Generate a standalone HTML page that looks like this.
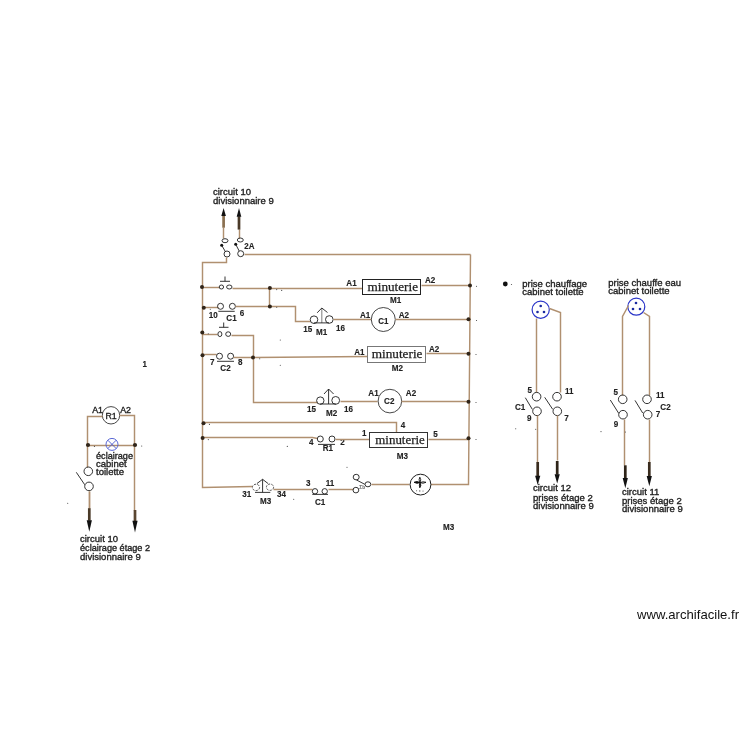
<!DOCTYPE html>
<html><head><meta charset="utf-8"><style>
html,body{margin:0;padding:0;background:#fff;}
svg{display:block;} .wrap{will-change:transform;width:750px;height:750px;}
</style></head><body><div class="wrap">
<svg width="750" height="750" viewBox="0 0 750 750">
<rect width="750" height="750" fill="#fff"/>
<text x="213" y="195" font-family="Liberation Sans" font-size="9.5" font-weight="normal" fill="#222" text-anchor="start" stroke="#222" stroke-width="0.35">circuit 10</text>
<text x="213" y="204" font-family="Liberation Sans" font-size="9.5" font-weight="normal" fill="#222" text-anchor="start" stroke="#222" stroke-width="0.35">divisionnaire 9</text>
<path d="M223.5,227.5 L223.5,238.5" fill="none" stroke="#b09070" stroke-width="1.45"/>
<rect x="222.25" y="215.5" width="2.7" height="12.199999999999989" fill="#8a7050"/>
<path d="M223.6,208 L221.29999999999998,216 L225.9,216 Z" fill="#111"/>
<path d="M239.5,229.5 L239.5,238.5" fill="none" stroke="#b09070" stroke-width="1.45"/>
<rect x="237.65" y="216.3" width="2.7" height="13.299999999999983" fill="#4a3a28"/>
<path d="M239,208 L236.7,216.8 L241.3,216.8 Z" fill="#111"/>
<ellipse cx="225" cy="240.7" rx="3" ry="2" fill="none" stroke="#1e1e1e" stroke-width="0.9"/>
<ellipse cx="240.3" cy="240" rx="3" ry="2" fill="none" stroke="#1e1e1e" stroke-width="0.9"/>
<path d="M221.7,245.3 L225.3,251.5" fill="none" stroke="#1e1e1e" stroke-width="0.9"/>
<circle cx="227" cy="254" r="3" fill="none" stroke="#1e1e1e" stroke-width="0.9"/>
<path d="M235.7,244.3 L239.2,251" fill="none" stroke="#1e1e1e" stroke-width="0.9"/>
<circle cx="240.7" cy="253.7" r="3" fill="none" stroke="#1e1e1e" stroke-width="0.9"/>
<text transform="translate(244.3,248.7) scale(1,1.15)" x="0" y="0" font-family="Liberation Sans" font-size="8" font-weight="bold" fill="#222" text-anchor="start" stroke="#222" stroke-width="0.12">2A</text>
<path d="M244.5,254.5 L470.5,254.5" fill="none" stroke="#b09070" stroke-width="1.45"/>
<path d="M470.5,254.5 L468.5,484.5 L431,484.5" fill="none" stroke="#b09070" stroke-width="1.45"/>
<path d="M226.5,257.5 L226.5,262.5 L202.5,262.5 L202.5,487.5 L252.5,486.5" fill="none" stroke="#b09070" stroke-width="1.45"/>
<path d="M202.5,287.5 L219.5,287.5" fill="none" stroke="#b09070" stroke-width="1.45"/>
<ellipse cx="221.4" cy="287" rx="2.2" ry="2" fill="none" stroke="#1e1e1e" stroke-width="0.9"/>
<ellipse cx="229.3" cy="287" rx="2.7" ry="2" fill="none" stroke="#1e1e1e" stroke-width="0.9"/>
<path d="M220,281.3 L230,281.3" fill="none" stroke="#1e1e1e" stroke-width="0.9"/>
<path d="M225,276.5 L225,281.3" fill="none" stroke="#1e1e1e" stroke-width="0.9"/>
<path d="M232.5,288.5 L362.5,288.5" fill="none" stroke="#b09070" stroke-width="1.45"/>
<path d="M269.5,288.5 L269.5,307.5" fill="none" stroke="#b09070" stroke-width="1.45"/>
<rect x="362.5" y="279.5" width="58" height="15" fill="#fff" stroke="#222" stroke-width="1"/>
<text x="367.5" y="291" font-family="Liberation Serif" font-size="13" font-weight="normal" fill="#222" text-anchor="start" textLength="50.5" lengthAdjust="spacingAndGlyphs" stroke="#222" stroke-width="0.25">minuterie</text>
<text transform="translate(346.3,285.7) scale(1,1.15)" x="0" y="0" font-family="Liberation Sans" font-size="8.1" font-weight="bold" fill="#222" text-anchor="start" stroke="#222" stroke-width="0.12">A1</text>
<text transform="translate(425,283.3) scale(1,1.15)" x="0" y="0" font-family="Liberation Sans" font-size="8.1" font-weight="bold" fill="#222" text-anchor="start" stroke="#222" stroke-width="0.12">A2</text>
<text transform="translate(390,302.5) scale(1,1.15)" x="0" y="0" font-family="Liberation Sans" font-size="8.1" font-weight="bold" fill="#222" text-anchor="start" stroke="#222" stroke-width="0.12">M1</text>
<path d="M421.5,285.5 L470.5,285.5" fill="none" stroke="#b09070" stroke-width="1.45"/>
<path d="M202.5,307.5 L218.5,307.5" fill="none" stroke="#b09070" stroke-width="1.45"/>
<circle cx="220.5" cy="306.3" r="3" fill="none" stroke="#1e1e1e" stroke-width="0.9"/>
<circle cx="232.4" cy="306.3" r="3" fill="none" stroke="#1e1e1e" stroke-width="0.9"/>
<path d="M218.3,311.3 L234.7,311.3" fill="none" stroke="#1e1e1e" stroke-width="0.9"/>
<text transform="translate(208.8,318) scale(1,1.15)" x="0" y="0" font-family="Liberation Sans" font-size="8.1" font-weight="bold" fill="#222" text-anchor="start" stroke="#222" stroke-width="0.12">10</text>
<text transform="translate(239.7,315.5) scale(1,1.15)" x="0" y="0" font-family="Liberation Sans" font-size="8.1" font-weight="bold" fill="#222" text-anchor="start" stroke="#222" stroke-width="0.12">6</text>
<text transform="translate(226.3,320.7) scale(1,1.15)" x="0" y="0" font-family="Liberation Sans" font-size="8.1" font-weight="bold" fill="#222" text-anchor="start" stroke="#222" stroke-width="0.12">C1</text>
<path d="M235.5,306.5 L295.5,306.5 L295.5,321.5 L310.5,321.5" fill="none" stroke="#b09070" stroke-width="1.45"/>
<circle cx="314" cy="319.7" r="3.8" fill="none" stroke="#1e1e1e" stroke-width="0.9"/>
<circle cx="329.3" cy="319.5" r="3.8" fill="none" stroke="#1e1e1e" stroke-width="0.9"/>
<path d="M321.8,308 L321.8,322.9" fill="none" stroke="#888" stroke-width="1.1"/>
<path d="M317.2,312.8 L321.8,308 L327.5,312.5" fill="none" stroke="#1e1e1e" stroke-width="0.9"/>
<path d="M314,322.9 L329,322.9" fill="none" stroke="#1e1e1e" stroke-width="0.9"/>
<text transform="translate(303.3,331.5) scale(1,1.15)" x="0" y="0" font-family="Liberation Sans" font-size="8.1" font-weight="bold" fill="#222" text-anchor="start" stroke="#222" stroke-width="0.12">15</text>
<text transform="translate(336,331) scale(1,1.15)" x="0" y="0" font-family="Liberation Sans" font-size="8.1" font-weight="bold" fill="#222" text-anchor="start" stroke="#222" stroke-width="0.12">16</text>
<text transform="translate(316.1,334.7) scale(1,1.15)" x="0" y="0" font-family="Liberation Sans" font-size="8.1" font-weight="bold" fill="#222" text-anchor="start" stroke="#222" stroke-width="0.12">M1</text>
<path d="M333.5,319.5 L371.5,319.5" fill="none" stroke="#b09070" stroke-width="1.45"/>
<circle cx="383.3" cy="319.5" r="12" fill="none" stroke="#333" stroke-width="0.9"/>
<text transform="translate(383.3,323.8) scale(1,1.15)" x="0" y="0" font-family="Liberation Sans" font-size="8" font-weight="bold" fill="#222" text-anchor="middle" stroke="#222" stroke-width="0.12">C1</text>
<text transform="translate(360,317.5) scale(1,1.15)" x="0" y="0" font-family="Liberation Sans" font-size="8.1" font-weight="bold" fill="#222" text-anchor="start" stroke="#222" stroke-width="0.12">A1</text>
<text transform="translate(398.7,317.5) scale(1,1.15)" x="0" y="0" font-family="Liberation Sans" font-size="8.1" font-weight="bold" fill="#222" text-anchor="start" stroke="#222" stroke-width="0.12">A2</text>
<path d="M395.5,319.5 L470.5,319.5" fill="none" stroke="#b09070" stroke-width="1.45"/>
<path d="M202.5,334.5 L217.5,334.5" fill="none" stroke="#b09070" stroke-width="1.45"/>
<ellipse cx="219.9" cy="334.1" rx="2" ry="2.5" fill="none" stroke="#1e1e1e" stroke-width="0.9"/>
<ellipse cx="228.2" cy="334.1" rx="2.5" ry="2.3" fill="none" stroke="#1e1e1e" stroke-width="0.9"/>
<path d="M219,327.3 L228.5,327.3" fill="none" stroke="#1e1e1e" stroke-width="0.9"/>
<path d="M223.7,322.5 L223.7,327.3" fill="none" stroke="#1e1e1e" stroke-width="0.9"/>
<path d="M231.5,335.5 L253.5,335.5 L253.5,402.5 L317.5,402.5" fill="none" stroke="#b09070" stroke-width="1.45"/>
<path d="M202.5,354.5 L216.5,354.5" fill="none" stroke="#b09070" stroke-width="1.45"/>
<circle cx="219.5" cy="356.2" r="3" fill="none" stroke="#1e1e1e" stroke-width="0.9"/>
<circle cx="230.6" cy="356.2" r="3" fill="none" stroke="#1e1e1e" stroke-width="0.9"/>
<path d="M217,361.3 L234,361.3" fill="none" stroke="#1e1e1e" stroke-width="0.9"/>
<text transform="translate(210,365.3) scale(1,1.15)" x="0" y="0" font-family="Liberation Sans" font-size="8.1" font-weight="bold" fill="#222" text-anchor="start" stroke="#222" stroke-width="0.12">7</text>
<text transform="translate(238.1,364.6) scale(1,1.15)" x="0" y="0" font-family="Liberation Sans" font-size="8.1" font-weight="bold" fill="#222" text-anchor="start" stroke="#222" stroke-width="0.12">8</text>
<text transform="translate(220.3,370.7) scale(1,1.15)" x="0" y="0" font-family="Liberation Sans" font-size="8.1" font-weight="bold" fill="#222" text-anchor="start" stroke="#222" stroke-width="0.12">C2</text>
<path d="M233.5,357.5 L253.5,357.5 L367.5,356.5" fill="none" stroke="#b09070" stroke-width="1.45"/>
<rect x="367.5" y="346.5" width="58" height="16" fill="#fff" stroke="#777" stroke-width="1"/>
<text x="371.7" y="358" font-family="Liberation Serif" font-size="13" font-weight="normal" fill="#222" text-anchor="start" textLength="50.8" lengthAdjust="spacingAndGlyphs" stroke="#222" stroke-width="0.25">minuterie</text>
<text transform="translate(354.2,354.6) scale(1,1.15)" x="0" y="0" font-family="Liberation Sans" font-size="8.1" font-weight="bold" fill="#222" text-anchor="start" stroke="#222" stroke-width="0.12">A1</text>
<text transform="translate(429,351.7) scale(1,1.15)" x="0" y="0" font-family="Liberation Sans" font-size="8.1" font-weight="bold" fill="#222" text-anchor="start" stroke="#222" stroke-width="0.12">A2</text>
<text transform="translate(391.7,370.5) scale(1,1.15)" x="0" y="0" font-family="Liberation Sans" font-size="8.1" font-weight="bold" fill="#222" text-anchor="start" stroke="#222" stroke-width="0.12">M2</text>
<path d="M426.5,353.5 L468.5,353.5" fill="none" stroke="#b09070" stroke-width="1.45"/>
<circle cx="320.3" cy="400.6" r="3.7" fill="none" stroke="#1e1e1e" stroke-width="0.9"/>
<circle cx="335.7" cy="400.4" r="3.9" fill="none" stroke="#1e1e1e" stroke-width="0.9"/>
<path d="M328.6,389 L328.6,404" fill="none" stroke="#1e1e1e" stroke-width="0.9"/>
<path d="M324,394 L328.6,389 L333.6,394" fill="none" stroke="#1e1e1e" stroke-width="0.9"/>
<path d="M320,404 L336,404" fill="none" stroke="#1e1e1e" stroke-width="0.9"/>
<text transform="translate(307,411.8) scale(1,1.15)" x="0" y="0" font-family="Liberation Sans" font-size="8.1" font-weight="bold" fill="#222" text-anchor="start" stroke="#222" stroke-width="0.12">15</text>
<text transform="translate(343.9,411.8) scale(1,1.15)" x="0" y="0" font-family="Liberation Sans" font-size="8.1" font-weight="bold" fill="#222" text-anchor="start" stroke="#222" stroke-width="0.12">16</text>
<text transform="translate(325.9,415.7) scale(1,1.15)" x="0" y="0" font-family="Liberation Sans" font-size="8.1" font-weight="bold" fill="#222" text-anchor="start" stroke="#222" stroke-width="0.12">M2</text>
<path d="M340.5,401.5 L377.5,401.5" fill="none" stroke="#b09070" stroke-width="1.45"/>
<circle cx="389.9" cy="401.1" r="11.8" fill="none" stroke="#333" stroke-width="0.9"/>
<text transform="translate(389.3,403.9) scale(1,1.15)" x="0" y="0" font-family="Liberation Sans" font-size="8.1" font-weight="bold" fill="#222" text-anchor="middle" stroke="#222" stroke-width="0.12">C2</text>
<text transform="translate(368.3,395.8) scale(1,1.15)" x="0" y="0" font-family="Liberation Sans" font-size="8.1" font-weight="bold" fill="#222" text-anchor="start" stroke="#222" stroke-width="0.12">A1</text>
<text transform="translate(405.8,395.8) scale(1,1.15)" x="0" y="0" font-family="Liberation Sans" font-size="8.1" font-weight="bold" fill="#222" text-anchor="start" stroke="#222" stroke-width="0.12">A2</text>
<path d="M401.5,401.5 L468.5,401.5" fill="none" stroke="#b09070" stroke-width="1.45"/>
<path d="M202.5,422.5 L396.5,422.5 L396.5,432.5" fill="none" stroke="#b09070" stroke-width="1.45"/>
<text transform="translate(400.8,427.5) scale(1,1.15)" x="0" y="0" font-family="Liberation Sans" font-size="8.1" font-weight="bold" fill="#222" text-anchor="start" stroke="#222" stroke-width="0.12">4</text>
<path d="M202.5,437.5 L312.5,437.5 L317.5,438.5" fill="none" stroke="#b09070" stroke-width="1.45"/>
<circle cx="320.3" cy="439" r="3" fill="none" stroke="#1e1e1e" stroke-width="0.9"/>
<circle cx="332" cy="439" r="3" fill="none" stroke="#1e1e1e" stroke-width="0.9"/>
<path d="M318,444.4 L335,444.4" fill="none" stroke="#1e1e1e" stroke-width="0.9"/>
<text transform="translate(309,445.3) scale(1,1.15)" x="0" y="0" font-family="Liberation Sans" font-size="8.1" font-weight="bold" fill="#222" text-anchor="start" stroke="#222" stroke-width="0.12">4</text>
<text transform="translate(340.3,445.3) scale(1,1.15)" x="0" y="0" font-family="Liberation Sans" font-size="8.1" font-weight="bold" fill="#222" text-anchor="start" stroke="#222" stroke-width="0.12">2</text>
<text transform="translate(322.7,451.3) scale(1,1.15)" x="0" y="0" font-family="Liberation Sans" font-size="8.1" font-weight="bold" fill="#222" text-anchor="start" stroke="#222" stroke-width="0.12">R1</text>
<text transform="translate(362,435.7) scale(1,1.15)" x="0" y="0" font-family="Liberation Sans" font-size="8.1" font-weight="bold" fill="#222" text-anchor="start" stroke="#222" stroke-width="0.12">1</text>
<path d="M335.5,439.5 L369.5,439.5" fill="none" stroke="#b09070" stroke-width="1.45"/>
<rect x="369.5" y="432.5" width="58" height="15" fill="#fff" stroke="#333" stroke-width="1"/>
<text x="375.3" y="443.5" font-family="Liberation Serif" font-size="13" font-weight="normal" fill="#222" text-anchor="start" textLength="49.5" lengthAdjust="spacingAndGlyphs" stroke="#222" stroke-width="0.25">minuterie</text>
<text transform="translate(433.3,436.7) scale(1,1.15)" x="0" y="0" font-family="Liberation Sans" font-size="8.1" font-weight="bold" fill="#222" text-anchor="start" stroke="#222" stroke-width="0.12">5</text>
<text transform="translate(396.7,458.7) scale(1,1.15)" x="0" y="0" font-family="Liberation Sans" font-size="8.1" font-weight="bold" fill="#222" text-anchor="start" stroke="#222" stroke-width="0.12">M3</text>
<path d="M428.5,439.5 L468.5,439.5" fill="none" stroke="#b09070" stroke-width="1.45"/>
<g stroke-dasharray="2.2 1.2">
<ellipse cx="256" cy="487.4" rx="3.6" ry="3.2" fill="none" stroke="#444" stroke-width="0.9"/>
<ellipse cx="270" cy="487.2" rx="3.6" ry="3.2" fill="none" stroke="#444" stroke-width="0.9"/>
</g>
<path d="M262.6,479.3 L262.6,492.4" fill="none" stroke="#1e1e1e" stroke-width="0.9"/>
<path d="M257,483.5 L262.6,479.3 L268,483.5" fill="none" stroke="#1e1e1e" stroke-width="0.9"/>
<path d="M255,492.4 L270.3,492.4" fill="none" stroke="#1e1e1e" stroke-width="0.9"/>
<text transform="translate(242.3,497.3) scale(1,1.15)" x="0" y="0" font-family="Liberation Sans" font-size="8.1" font-weight="bold" fill="#222" text-anchor="start" stroke="#222" stroke-width="0.12">31</text>
<text transform="translate(277,497.3) scale(1,1.15)" x="0" y="0" font-family="Liberation Sans" font-size="8.1" font-weight="bold" fill="#222" text-anchor="start" stroke="#222" stroke-width="0.12">34</text>
<text transform="translate(260,504.4) scale(1,1.15)" x="0" y="0" font-family="Liberation Sans" font-size="8.1" font-weight="bold" fill="#222" text-anchor="start" stroke="#222" stroke-width="0.12">M3</text>
<path d="M273.5,489.5 L312.5,489.5" fill="none" stroke="#b09070" stroke-width="1.45"/>
<circle cx="315" cy="491.3" r="2.7" fill="none" stroke="#1e1e1e" stroke-width="0.9"/>
<circle cx="324.7" cy="491.3" r="2.7" fill="none" stroke="#1e1e1e" stroke-width="0.9"/>
<path d="M312.3,494.4 L328,494.4" fill="none" stroke="#1e1e1e" stroke-width="0.9"/>
<text transform="translate(306,485.7) scale(1,1.15)" x="0" y="0" font-family="Liberation Sans" font-size="8.1" font-weight="bold" fill="#222" text-anchor="start" stroke="#222" stroke-width="0.12">3</text>
<text transform="translate(325.7,485.7) scale(1,1.15)" x="0" y="0" font-family="Liberation Sans" font-size="8.1" font-weight="bold" fill="#222" text-anchor="start" stroke="#222" stroke-width="0.12">11</text>
<text transform="translate(315,504.7) scale(1,1.15)" x="0" y="0" font-family="Liberation Sans" font-size="8.1" font-weight="bold" fill="#222" text-anchor="start" stroke="#222" stroke-width="0.12">C1</text>
<path d="M328.5,489.5 L353.5,489.5" fill="none" stroke="#b09070" stroke-width="1.45"/>
<ellipse cx="355.9" cy="490.1" rx="2.9" ry="2.8" fill="none" stroke="#1e1e1e" stroke-width="0.9"/>
<ellipse cx="356.2" cy="477.1" rx="3" ry="2.8" fill="none" stroke="#1e1e1e" stroke-width="0.9"/>
<ellipse cx="367.9" cy="484.3" rx="2.9" ry="2.5" fill="none" stroke="#1e1e1e" stroke-width="0.9"/>
<path d="M356.5,480 L364.8,484.3" fill="none" stroke="#1e1e1e" stroke-width="0.9"/>
<text x="359.3" y="488.6" font-family="Liberation Sans" font-size="4.8" font-weight="bold" fill="#666">Σb</text>
<path d="M371.5,484.5 L409.5,484.5" fill="none" stroke="#b09070" stroke-width="1.45"/>
<circle cx="420.5" cy="484.6" r="10.4" fill="none" stroke="#1e1e1e" stroke-width="1.0"/>
<g fill="none" stroke="#111" stroke-width="0.9"><path d="M420,482.6 Q417,480.6 414,482.3 Q417,484.2 420,482.6 Z" fill="#111"/><path d="M420,482.6 Q423,481.2 426,482.3 Q423,484 420,482.6 Z"/><path d="M420,482.6 Q418.2,479.8 419.8,477.2 Q421.6,479.6 420,482.6 Z"/><path d="M420,482.6 Q418.8,485.3 419.8,487.8 Q421.8,485.4 420,482.6 Z" fill="#111"/></g>
<text transform="translate(443,529.6) scale(1,1.15)" x="0" y="0" font-family="Liberation Sans" font-size="8.1" font-weight="bold" fill="#222" text-anchor="start" stroke="#222" stroke-width="0.12">M3</text>
<circle cx="111" cy="415.3" r="8.7" fill="none" stroke="#333" stroke-width="0.9"/>
<text x="111" y="418.8" font-family="Liberation Sans" font-size="8.8" font-weight="normal" fill="#222" text-anchor="middle" stroke="#222" stroke-width="0.35">R1</text>
<text x="92.2" y="412.7" font-family="Liberation Sans" font-size="8.8" font-weight="normal" fill="#222" text-anchor="start" stroke="#222" stroke-width="0.35">A1</text>
<text x="120.2" y="412.7" font-family="Liberation Sans" font-size="8.8" font-weight="normal" fill="#222" text-anchor="start" stroke="#222" stroke-width="0.35">A2</text>
<path d="M102.5,416.5 L87.5,416.5 L87.5,467.5" fill="none" stroke="#b09070" stroke-width="1.45"/>
<path d="M119.5,415.5 L134.5,415.5 L134.5,510.5" fill="none" stroke="#b09070" stroke-width="1.45"/>
<path d="M88.5,445.5 L135.5,445.5" fill="none" stroke="#b09070" stroke-width="1.45"/>
<circle cx="112" cy="444.4" r="6" fill="none" stroke="#4858d0" stroke-width="0.9"/>
<path d="M107.8,440.2 L116.2,448.6" fill="none" stroke="#4858d0" stroke-width="0.9"/>
<path d="M116.2,440.2 L107.8,448.6" fill="none" stroke="#4858d0" stroke-width="0.9"/>
<text x="96" y="458.7" font-family="Liberation Sans" font-size="9.5" font-weight="normal" fill="#222" text-anchor="start" textLength="37" lengthAdjust="spacingAndGlyphs" stroke="#222" stroke-width="0.35">éclairage</text>
<text x="96" y="466.5" font-family="Liberation Sans" font-size="9.5" font-weight="normal" fill="#222" text-anchor="start" stroke="#222" stroke-width="0.35">cabinet</text>
<text x="96" y="474.7" font-family="Liberation Sans" font-size="9.5" font-weight="normal" fill="#222" text-anchor="start" stroke="#222" stroke-width="0.35">toilette</text>
<circle cx="88.3" cy="471.3" r="4.3" fill="none" stroke="#1e1e1e" stroke-width="0.9"/>
<circle cx="89" cy="486.4" r="4.3" fill="none" stroke="#1e1e1e" stroke-width="0.9"/>
<path d="M76.3,472.3 L84.7,484.7" fill="none" stroke="#1e1e1e" stroke-width="0.9"/>
<path d="M89.5,491.5 L89.5,508.5" fill="none" stroke="#b09070" stroke-width="1.45"/>
<path d="M89.5,491.5 L89.5,508.5" fill="none" stroke="#b09070" stroke-width="1.45"/>
<rect x="87.95" y="508.2" width="2.7" height="12.500000000000057" fill="#4a3a28"/>
<path d="M89.3,531.8 L86.7,520.2 L91.89999999999999,520.2 Z" fill="#111"/>
<path d="M135.5,510.5 L135.5,510.5" fill="none" stroke="#b09070" stroke-width="1.45"/>
<rect x="133.65" y="510" width="2.7" height="11.299999999999955" fill="#5a4630"/>
<path d="M135,532.6 L132.4,520.8 L137.6,520.8 Z" fill="#111"/>
<text x="80" y="542" font-family="Liberation Sans" font-size="9.5" font-weight="normal" fill="#222" text-anchor="start" stroke="#222" stroke-width="0.35">circuit 10</text>
<text x="80" y="551" font-family="Liberation Sans" font-size="9.5" font-weight="normal" fill="#222" text-anchor="start" textLength="70" lengthAdjust="spacingAndGlyphs" stroke="#222" stroke-width="0.35">éclairage étage 2</text>
<text x="80" y="559.8" font-family="Liberation Sans" font-size="9.5" font-weight="normal" fill="#222" text-anchor="start" stroke="#222" stroke-width="0.35">divisionnaire 9</text>
<text transform="translate(142.5,366.7) scale(1,1.15)" x="0" y="0" font-family="Liberation Sans" font-size="8" font-weight="bold" fill="#222" text-anchor="start" stroke="#222" stroke-width="0.12">1</text>
<text x="522.3" y="286.7" font-family="Liberation Sans" font-size="9.5" font-weight="normal" fill="#222" text-anchor="start" stroke="#222" stroke-width="0.35">prise chauffage</text>
<text x="522.3" y="295.3" font-family="Liberation Sans" font-size="9.5" font-weight="normal" fill="#222" text-anchor="start" stroke="#222" stroke-width="0.35">cabinet toilette</text>
<circle cx="540.7" cy="309.7" r="8.6" fill="none" stroke="#2a35c8" stroke-width="1.2"/>
<path d="M536.5,318.5 L536.5,392.5" fill="none" stroke="#b09070" stroke-width="1.45"/>
<path d="M549.5,308.5 L560.5,312.5 L560.5,392.5" fill="none" stroke="#b09070" stroke-width="1.45"/>
<circle cx="536.6" cy="396.7" r="4.3" fill="none" stroke="#1e1e1e" stroke-width="0.9"/>
<circle cx="537" cy="411.3" r="4.3" fill="none" stroke="#1e1e1e" stroke-width="0.9"/>
<path d="M525.3,397.7 L532.3,409.3" fill="none" stroke="#1e1e1e" stroke-width="0.9"/>
<circle cx="557" cy="396.7" r="4.3" fill="none" stroke="#1e1e1e" stroke-width="0.9"/>
<circle cx="557.3" cy="411.3" r="4.3" fill="none" stroke="#1e1e1e" stroke-width="0.9"/>
<path d="M544.7,397.3 L552.7,409.3" fill="none" stroke="#1e1e1e" stroke-width="0.9"/>
<text transform="translate(527.4,392.7) scale(1,1.15)" x="0" y="0" font-family="Liberation Sans" font-size="8.1" font-weight="bold" fill="#222" text-anchor="start" stroke="#222" stroke-width="0.12">5</text>
<text transform="translate(515,409.7) scale(1,1.15)" x="0" y="0" font-family="Liberation Sans" font-size="8.1" font-weight="bold" fill="#222" text-anchor="start" stroke="#222" stroke-width="0.12">C1</text>
<text transform="translate(527,420.7) scale(1,1.15)" x="0" y="0" font-family="Liberation Sans" font-size="8.1" font-weight="bold" fill="#222" text-anchor="start" stroke="#222" stroke-width="0.12">9</text>
<text transform="translate(565,393.7) scale(1,1.15)" x="0" y="0" font-family="Liberation Sans" font-size="8.1" font-weight="bold" fill="#222" text-anchor="start" stroke="#222" stroke-width="0.12">11</text>
<text transform="translate(564.3,420.7) scale(1,1.15)" x="0" y="0" font-family="Liberation Sans" font-size="8.1" font-weight="bold" fill="#222" text-anchor="start" stroke="#222" stroke-width="0.12">7</text>
<path d="M537.5,415.5 L537.5,462.5" fill="none" stroke="#b09070" stroke-width="1.45"/>
<path d="M557.5,415.5 L557.5,460.5" fill="none" stroke="#b09070" stroke-width="1.45"/>
<path d="M537.5,462.5 L537.5,462.5" fill="none" stroke="#b09070" stroke-width="1.45"/>
<rect x="536.35" y="462" width="2.7" height="14.300000000000011" fill="#3a2c1e"/>
<path d="M537.7,485 L535.1,475.8 L540.3000000000001,475.8 Z" fill="#111"/>
<path d="M557.5,461.5 L557.5,461.5" fill="none" stroke="#b09070" stroke-width="1.45"/>
<rect x="555.85" y="461" width="2.7" height="13.699999999999989" fill="#2e2418"/>
<path d="M557.2,483.6 L554.6,474.2 L559.8000000000001,474.2 Z" fill="#111"/>
<text x="533" y="491.3" font-family="Liberation Sans" font-size="9.5" font-weight="normal" fill="#222" text-anchor="start" stroke="#222" stroke-width="0.35">circuit 12</text>
<text x="533" y="500.7" font-family="Liberation Sans" font-size="9.5" font-weight="normal" fill="#222" text-anchor="start" stroke="#222" stroke-width="0.35">prises étage 2</text>
<text x="533" y="508.7" font-family="Liberation Sans" font-size="9.5" font-weight="normal" fill="#222" text-anchor="start" stroke="#222" stroke-width="0.35">divisionnaire 9</text>
<text x="608.3" y="285.7" font-family="Liberation Sans" font-size="9.5" font-weight="normal" fill="#222" text-anchor="start" stroke="#222" stroke-width="0.35">prise chauffe eau</text>
<text x="608.3" y="293.7" font-family="Liberation Sans" font-size="9.5" font-weight="normal" fill="#222" text-anchor="start" stroke="#222" stroke-width="0.35">cabinet toilette</text>
<circle cx="636.3" cy="306.7" r="8.5" fill="none" stroke="#2a35c8" stroke-width="1.2"/>
<path d="M628.5,305.5 L622.5,316.5 L622.5,395.5" fill="none" stroke="#b09070" stroke-width="1.45"/>
<path d="M643.5,312.5 L649.5,316.5 L649.5,395.5" fill="none" stroke="#b09070" stroke-width="1.45"/>
<circle cx="622.7" cy="399.3" r="4.3" fill="none" stroke="#1e1e1e" stroke-width="0.9"/>
<circle cx="623" cy="414.7" r="4.3" fill="none" stroke="#1e1e1e" stroke-width="0.9"/>
<path d="M610.3,400 L618.7,413.3" fill="none" stroke="#1e1e1e" stroke-width="0.9"/>
<circle cx="647" cy="399.3" r="4.3" fill="none" stroke="#1e1e1e" stroke-width="0.9"/>
<circle cx="647.7" cy="414.7" r="4.3" fill="none" stroke="#1e1e1e" stroke-width="0.9"/>
<path d="M635,400.4 L642.7,413" fill="none" stroke="#1e1e1e" stroke-width="0.9"/>
<text transform="translate(613.4,394.7) scale(1,1.15)" x="0" y="0" font-family="Liberation Sans" font-size="8.1" font-weight="bold" fill="#222" text-anchor="start" stroke="#222" stroke-width="0.12">5</text>
<text transform="translate(613.7,426.7) scale(1,1.15)" x="0" y="0" font-family="Liberation Sans" font-size="8.1" font-weight="bold" fill="#222" text-anchor="start" stroke="#222" stroke-width="0.12">9</text>
<text transform="translate(656,397.7) scale(1,1.15)" x="0" y="0" font-family="Liberation Sans" font-size="8.1" font-weight="bold" fill="#222" text-anchor="start" stroke="#222" stroke-width="0.12">11</text>
<text transform="translate(660.3,409.7) scale(1,1.15)" x="0" y="0" font-family="Liberation Sans" font-size="8.1" font-weight="bold" fill="#222" text-anchor="start" stroke="#222" stroke-width="0.12">C2</text>
<text transform="translate(655.7,417.3) scale(1,1.15)" x="0" y="0" font-family="Liberation Sans" font-size="8.1" font-weight="bold" fill="#222" text-anchor="start" stroke="#222" stroke-width="0.12">7</text>
<path d="M624.5,419.5 L624.5,465.5" fill="none" stroke="#b09070" stroke-width="1.45"/>
<path d="M649.5,419.5 L649.5,462.5" fill="none" stroke="#b09070" stroke-width="1.45"/>
<path d="M625.5,465.5 L625.5,465.5" fill="none" stroke="#b09070" stroke-width="1.45"/>
<rect x="623.9499999999999" y="465.3" width="2.7" height="13.199999999999989" fill="#2e2418"/>
<path d="M625.3,488.2 L622.6999999999999,478 L627.9,478 Z" fill="#111"/>
<path d="M649.5,462.5 L649.5,462.5" fill="none" stroke="#b09070" stroke-width="1.45"/>
<rect x="647.9499999999999" y="462" width="2.7" height="14.5" fill="#3a2c1e"/>
<path d="M649.3,486.2 L646.6999999999999,476 L651.9,476 Z" fill="#111"/>
<text x="622" y="494.7" font-family="Liberation Sans" font-size="9.5" font-weight="normal" fill="#222" text-anchor="start" stroke="#222" stroke-width="0.35">circuit 11</text>
<text x="622" y="504" font-family="Liberation Sans" font-size="9.5" font-weight="normal" fill="#222" text-anchor="start" stroke="#222" stroke-width="0.35">prises étage 2</text>
<text x="622" y="512" font-family="Liberation Sans" font-size="9.5" font-weight="normal" fill="#222" text-anchor="start" stroke="#222" stroke-width="0.35">divisionnaire 9</text>
<text x="637" y="618.6" font-family="Liberation Sans" font-size="13" fill="#111" textLength="102" lengthAdjust="spacingAndGlyphs">www.archifacile.fr</text>
<circle cx="221.7" cy="245.3" r="1.5" fill="#111"/>
<circle cx="235.7" cy="244.3" r="1.5" fill="#111"/>
<circle cx="202" cy="287" r="2.0" fill="#30251a"/>
<circle cx="269.9" cy="287.9" r="2.0" fill="#30251a"/>
<circle cx="470" cy="285.6" r="2.0" fill="#30251a"/>
<circle cx="203.8" cy="307.8" r="2.0" fill="#30251a"/>
<circle cx="269.9" cy="306.5" r="2.0" fill="#30251a"/>
<circle cx="468.5" cy="319.2" r="2.0" fill="#30251a"/>
<circle cx="202.3" cy="332.4" r="2.0" fill="#30251a"/>
<circle cx="202.5" cy="355.3" r="2.0" fill="#30251a"/>
<circle cx="253" cy="357.4" r="2.0" fill="#30251a"/>
<circle cx="468.5" cy="353.8" r="2.0" fill="#30251a"/>
<circle cx="468.5" cy="401.8" r="2.0" fill="#30251a"/>
<circle cx="203.5" cy="423.3" r="2.0" fill="#30251a"/>
<circle cx="202.6" cy="438" r="2.0" fill="#30251a"/>
<circle cx="468.5" cy="438.3" r="2.0" fill="#30251a"/>
<circle cx="416.6" cy="490.8" r="0.5" fill="#333"/>
<circle cx="419.8" cy="490.9" r="0.6" fill="#333"/>
<circle cx="423" cy="491" r="0.5" fill="#333"/>
<circle cx="88" cy="445" r="2.1" fill="#30251a"/>
<circle cx="135" cy="445" r="2.1" fill="#30251a"/>
<circle cx="505.3" cy="284" r="2.4" fill="#111"/>
<circle cx="511.5" cy="284.5" r="0.6" fill="#555"/>
<circle cx="540.7" cy="306" r="1.3" fill="#1a2aa0"/>
<circle cx="537.5" cy="312" r="1.3" fill="#1a2aa0"/>
<circle cx="544" cy="312" r="1.3" fill="#1a2aa0"/>
<circle cx="636" cy="303" r="1.3" fill="#1a2aa0"/>
<circle cx="633" cy="309" r="1.3" fill="#1a2aa0"/>
<circle cx="640" cy="309" r="1.3" fill="#1a2aa0"/>
<circle cx="476.5" cy="286.3" r="0.55" fill="#444"/>
<circle cx="476.5" cy="320.5" r="0.55" fill="#444"/>
<circle cx="476" cy="354.5" r="0.55" fill="#444"/>
<circle cx="476" cy="402.5" r="0.55" fill="#444"/>
<circle cx="476" cy="439.5" r="0.55" fill="#444"/>
<circle cx="276.7" cy="289.6" r="0.55" fill="#444"/>
<circle cx="281.7" cy="290.4" r="0.55" fill="#444"/>
<circle cx="210.3" cy="309.3" r="0.55" fill="#444"/>
<circle cx="208.3" cy="333.7" r="0.55" fill="#444"/>
<circle cx="276.7" cy="307.3" r="0.55" fill="#444"/>
<circle cx="280.3" cy="340" r="0.55" fill="#444"/>
<circle cx="280.3" cy="365.3" r="0.55" fill="#444"/>
<circle cx="259.7" cy="358.7" r="0.55" fill="#444"/>
<circle cx="287.3" cy="446.4" r="0.55" fill="#444"/>
<circle cx="209.4" cy="424.4" r="0.55" fill="#444"/>
<circle cx="208.3" cy="439.6" r="0.55" fill="#444"/>
<circle cx="293.7" cy="499.3" r="0.55" fill="#444"/>
<circle cx="347" cy="467.3" r="0.55" fill="#444"/>
<circle cx="67.7" cy="503.3" r="0.55" fill="#444"/>
<circle cx="515.7" cy="428.7" r="0.55" fill="#444"/>
<circle cx="535.7" cy="429.3" r="0.55" fill="#444"/>
<circle cx="601" cy="431.6" r="0.55" fill="#444"/>
<circle cx="625.4" cy="432" r="0.55" fill="#444"/>
<circle cx="94.4" cy="446.4" r="0.55" fill="#444"/>
<circle cx="141.7" cy="446" r="0.55" fill="#444"/>
</svg></div></body></html>
